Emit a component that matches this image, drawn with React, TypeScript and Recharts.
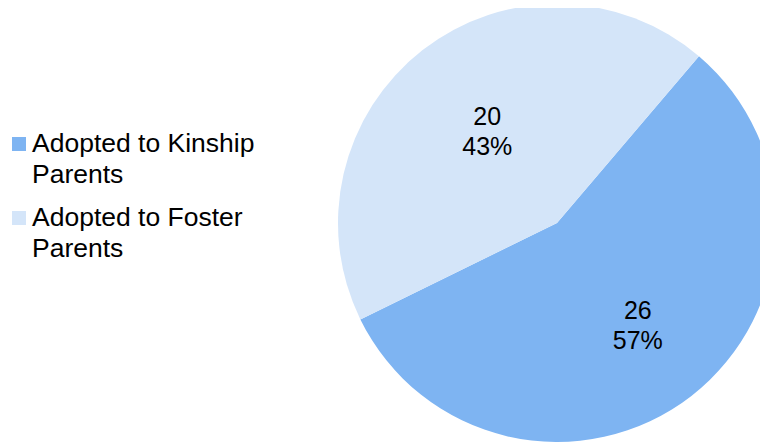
import React from "react";
import { PieChart, Pie, Cell } from "recharts";

const categories = ["Adopted to Kinship Parents", "Adopted to Foster Parents"];
const counts = [26, 20];
const percents = ["57%", "43%"];
const colors = ["#7EB4F2", "#D4E5F9"];

const data = categories.map((name, i) => ({ name, value: counts[i], pct: percents[i] }));

const FONT = "'Liberation Sans', Arial, sans-serif";
const RAD = Math.PI / 180;

const renderLabel = (props: any) => {
  const { cx, cy, midAngle, outerRadius, index } = props;
  const f = index === 0 ? 0.59 : 0.53;
  const r = outerRadius * f;
  const x = cx + r * Math.cos(-midAngle * RAD);
  const y = cy + r * Math.sin(-midAngle * RAD);
  const d = data[index];
  return (
    <text x={x} y={y} textAnchor="middle" fill="#000" fontFamily={FONT} fontSize={25}>
      <tspan x={x + 1.5} y={y - 15} dominantBaseline="central">{d.value}</tspan>
      <tspan x={x + 1.5} y={y + 15} dominantBaseline="central">{d.pct}</tspan>
    </text>
  );
};

const LegendBox = () => (
  <div
    style={{
      position: "absolute",
      left: 4,
      top: 119.5,
      width: 290,
      fontFamily: FONT,
      fontSize: 26.5,
      color: "#000",
    }}
  >
    {data.map((d, i) => (
      <div key={d.name} style={{ position: "relative", height: 62, marginBottom: 12 }}>
        <div
          style={{
            position: "absolute",
            left: 0,
            top: 9.5,
            width: 14,
            height: 14,
            background: colors[i],
          }}
        />
        <div style={{ position: "absolute", left: 20, top: 0, width: 255, lineHeight: "31px" }}>
          {d.name}
        </div>
      </div>
    ))}
  </div>
);

export default function App() {
  return (
    <div style={{ position: "relative", width: 760, height: 436 }}>
      <PieChart width={760} height={436} margin={{ top: 0, right: 0, bottom: 0, left: 0 }}>
        <Pie
          data={data}
          dataKey="value"
          nameKey="name"
          cx={549}
          cy={215}
          outerRadius={219}
          startAngle={49.6}
          endAngle={49.6 - 360}
          stroke="none"
          labelLine={false}
          label={renderLabel}
          isAnimationActive={false}
        >
          {data.map((d, i) => (
            <Cell key={d.name} fill={colors[i]} />
          ))}
        </Pie>
      </PieChart>
      <LegendBox />
    </div>
  );
}
